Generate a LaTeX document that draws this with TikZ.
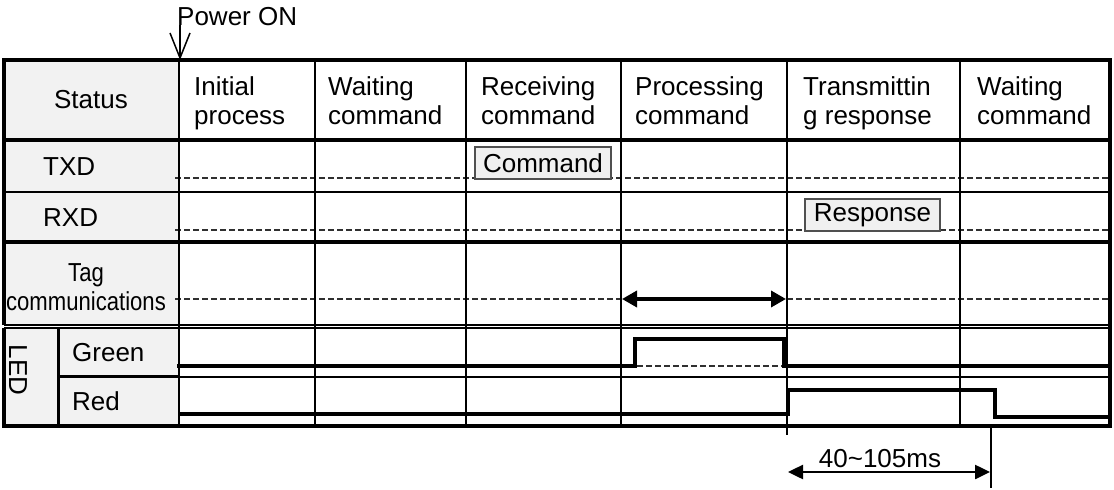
\documentclass[tikz,border=0pt]{standalone}
\usepackage{fontspec}
\setmainfont{Liberation Sans}
\usetikzlibrary{arrows.meta}
\definecolor{labelgray}{HTML}{F2F2F2}
\definecolor{boxgray}{HTML}{F0F0F0}
\definecolor{boxedge}{HTML}{505050}
\definecolor{dashgray}{HTML}{303030}
\newcommand{\hdtwo}[2]{\strut #1\\\strut #2}
\newcommand{\narrow}[1]{\scalebox{0.85}[1]{#1}}
\begin{document}
\begin{tikzpicture}[x=1pt,y=-1pt,
  txt/.style={font=\fontsize{26}{29}\selectfont, inner sep=0pt},
  hdr/.style={txt, anchor=west, align=left},
  lbl/.style={txt, anchor=base west},
  border/.style={line width=4pt, line join=miter},
  rowthick/.style={line width=3.8pt},
  rowthin/.style={line width=2pt},
  colline/.style={line width=2pt},
  guide/.style={line width=1.2pt, dashgray, dash pattern=on 6pt off 3pt},
  signal/.style={line width=3.5pt, line join=miter},
  pkt/.style={txt, draw=boxedge, fill=boxgray, line width=1.2pt, minimum height=32pt},
  dimline/.style={line width=2.5pt, {Triangle[length=15pt,width=14pt]}-{Triangle[length=15pt,width=14pt]}},
  tagarrow/.style={line width=3.5pt, {Triangle[length=15pt,width=16pt]}-{Triangle[length=15pt,width=16pt]}}
]
\useasboundingbox (0,0) rectangle (1114,490);

% label column background
\fill[labelgray] (4,60) rectangle (179,325);
\fill[labelgray] (4,328) rectangle (179,426);

% dashed guide lines
\draw[guide] (175,178) -- (1110,178);
\draw[guide] (175,230) -- (1110,230);
\draw[guide] (175,299) -- (1110,299);
\draw[guide] (637,366) -- (784,366);

% packet boxes
\node[pkt, minimum width=136pt] (cmd) at (543,163) {Command};
\node[pkt, minimum width=135pt] (rsp) at (872.5,215) {Response};

% horizontal rules
\draw[rowthick] (4,140) -- (1110,140);
\draw[rowthin] (4,192) -- (1110,192);
\draw[rowthick] (4,242) -- (1110,242);
\draw[line width=1.6pt] (4,325) -- (1110,325);
\draw[line width=1.6pt] (4,328) -- (1110,328);
\draw[rowthick] (58,376.5) -- (179,376.5);
\draw[rowthin] (179,377) -- (1110,377);

% vertical rules
\draw[line width=2.7pt] (179,60) -- (179,426);
\draw[line width=3pt] (58,328) -- (58,426);
\foreach \cx in {315,466,621,960} \draw[colline] (\cx,60) -- (\cx,426);
\draw[colline] (787,60) -- (787,435);

% outer border
\draw[border] (4,325) -- (4,60) -- (1110,60) -- (1110,426) -- (4,426) -- (4,328);

% signals
\draw[signal] (177,366) -- (635,366) -- (635,339) -- (784,339) -- (784,366) -- (1108,366);
\draw[signal] (179,414) -- (788,414) -- (788,390) -- (995,390) -- (995,417) -- (1108,417);

% header texts
\node[txt] (status) at (91,100) {Status};
\node[hdr] (h1) at (194,103.7) {\hdtwo{Initial}{process}};
\node[hdr] (h2) at (328,103.7) {\hdtwo{Waiting}{command}};
\node[hdr] (h3) at (481,103.7) {\hdtwo{Receiving}{command}};
\node[hdr] (h4) at (635,103.7) {\hdtwo{Processing}{command}};
\node[hdr] (h5) at (803,103.7) {\hdtwo{Transmittin}{g response}};
\node[hdr] (h6) at (977,103.7) {\hdtwo{Waiting}{command}};

% row labels
\node[lbl] (txd) at (43,175.3) {TXD};
\node[lbl] (rxd) at (43,226.3) {RXD};
\node[txt, align=center] (tag) at (86,290) {\strut\narrow{Tag}\\\strut\narrow{communications}};
\node[txt, rotate=-90] (led) at (18,370) {LED};
\node[lbl] (green) at (72,361.3) {Green};
\node[lbl] (red) at (72,410.3) {Red};

% tag communications arrow
\coordinate (tagL) at (622,299);
\coordinate (tagR) at (786,299);
\draw[tagarrow] (tagL) -- (tagR);

% power on
\node[lbl] (pwr) at (177,25) {Power ON};
\coordinate (ptip) at (180,60);
\draw[line width=1.5pt, -{Straight Barb[length=25pt,width=20pt]}] (pwr.south west -| ptip) -- (ptip);

% timing dimension
\draw[line width=1.5pt] (991,428) -- (991,488);
\coordinate (d1) at (788,472);
\coordinate (d2) at (990,472);
\draw[dimline] (d1) -- (d2);
\node[lbl, anchor=base] (dim) at (880,467) {40\textasciitilde105ms};
\end{tikzpicture}
\end{document}
